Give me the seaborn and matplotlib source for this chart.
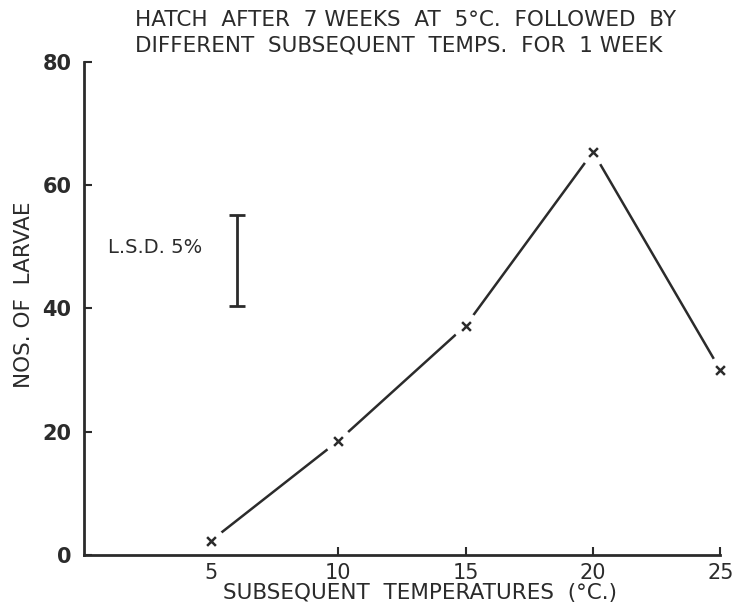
import matplotlib
matplotlib.use("Agg")
import matplotlib.pyplot as plt
import seaborn as sns
import pandas as pd

# Hatch counts after 7 weeks at 5 °C, then one week at each temperature
temps = [5, 10, 15, 20, 25]
larvae = [2.3, 18.5, 37.2, 65.4, 30.0]

# Least significant difference (5 %) bar
lsd_x = 6
lsd_low = 40.4
lsd_high = 55.2

x_ticks = [5, 10, 15, 20, 25]
y_ticks = [0, 20, 40, 60, 80]

title_lines = ["HATCH  AFTER  7 WEEKS  AT  5°C.  FOLLOWED  BY",
               "DIFFERENT  SUBSEQUENT  TEMPS.  FOR  1 WEEK"]

sns.set_theme(style="white")
plt.rcParams["font.family"] = ["DejaVu Sans"]
ink = "#2b2b2b"

df = pd.DataFrame({"temp": temps, "larvae": larvae})

fig = plt.figure(figsize=(7.35, 6.07), dpi=100)
ax = fig.add_axes([0.114, 0.086, 0.866, 0.812])

sns.lineplot(data=df, x="temp", y="larvae", ax=ax, color=ink, linewidth=1.8)
# white discs leave a gap in the line around each point (kept under the spines)
sns.scatterplot(data=df, x="temp", y="larvae", ax=ax, marker="o", s=380,
                color="white", linewidth=0, zorder=2.2, clip_on=False)
sns.scatterplot(data=df, x="temp", y="larvae", ax=ax, marker="x", s=40,
                color=ink, linewidth=1.8, zorder=5, clip_on=False)

# LSD bar with end caps
ax.errorbar([lsd_x], [(lsd_low + lsd_high) / 2],
            yerr=[[(lsd_high - lsd_low) / 2]], fmt="none",
            ecolor=ink, elinewidth=2, capsize=6, capthick=2)
ax.text(0.95, (lsd_low + lsd_high) / 2 + 2.0, "L.S.D. 5%", fontsize=14,
        color=ink, ha="left", va="center")

ax.set_xlim(0, 25)
ax.set_ylim(0, 80)
ax.set_xticks(x_ticks)
ax.set_yticks(y_ticks)
ax.set_xticklabels([str(t) for t in x_ticks], fontsize=15, color=ink)
ax.set_yticklabels([str(t) for t in y_ticks], fontsize=15, color=ink,
                   fontweight="bold")
ax.tick_params(axis="both", direction="in", length=6, width=1.5,
               colors=ink, labelcolor=ink)
ax.tick_params(axis="y", pad=9, left=True)
ax.tick_params(axis="x", pad=6, bottom=True)

for side in ["top", "right"]:
    ax.spines[side].set_visible(False)
for side in ["left", "bottom"]:
    ax.spines[side].set_color(ink)
    ax.spines[side].set_linewidth(2)

ax.set_xlabel("")
ax.set_ylabel("")
fig.text(420 / 735, 1 - 593 / 607, "SUBSEQUENT  TEMPERATURES  (°C.)",
         fontsize=15.5, color=ink, ha="center", va="center")
fig.text(24 / 735, 1 - 295 / 607, "NOS. OF  LARVAE", fontsize=15.5,
         color=ink, ha="center", va="center", rotation=90)

fig.text(135 / 735, 1 - 20 / 607, title_lines[0], fontsize=15.5, color=ink,
         ha="left", va="center")
fig.text(135 / 735, 1 - 45 / 607, title_lines[1], fontsize=15.5, color=ink,
         ha="left", va="center")

fig.savefig("out.png", dpi=100, facecolor="white")
